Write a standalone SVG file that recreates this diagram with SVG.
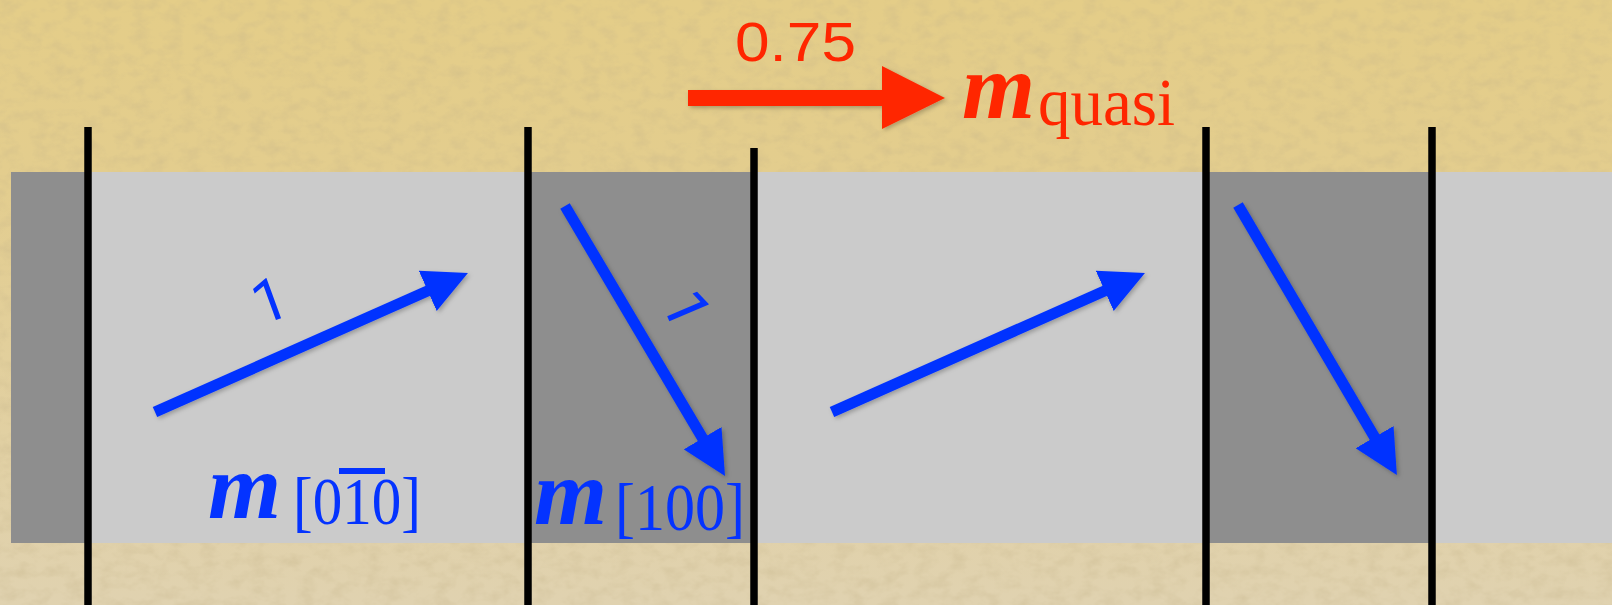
<svg xmlns="http://www.w3.org/2000/svg" width="1612" height="605" viewBox="0 0 1612 605">
  <defs>
    <linearGradient id="bg" x1="0" y1="0" x2="0" y2="1">
      <stop offset="0" stop-color="#E4CD88"/>
      <stop offset="0.3" stop-color="#E3CD8E"/>
      <stop offset="1" stop-color="#E0D2B0"/>
    </linearGradient>
    <filter id="grain" x="0" y="0" width="100%" height="100%">
      <feTurbulence type="fractalNoise" baseFrequency="0.06 0.09" numOctaves="3" seed="4" result="n"/>
      <feColorMatrix in="n" type="matrix" values="0 0 0 0 0.55  0 0 0 0 0.45  0 0 0 0 0.25  0 0 0 -1.6 0.95"/>
    </filter>
    <filter id="shadow" x="-10%" y="-10%" width="130%" height="130%">
      <feDropShadow dx="2" dy="2" stdDeviation="2" flood-color="#000" flood-opacity="0.25"/>
    </filter>
    <marker id="blueHead" viewBox="0 0 44 44" refX="4" refY="22" markerWidth="44" markerHeight="44" markerUnits="userSpaceOnUse" orient="auto">
      <path d="M0,0 L44,22 L0,44 z" fill="#0433FF"/>
    </marker>
    <style>
      .light { fill: #CBCBCB; }
      .dark { fill: #8E8E8E; }
      .wall { stroke: #000; stroke-width: 7.5; }
      .vec { stroke: #0433FF; stroke-width: 11; fill: none; marker-end: url(#blueHead); }
      .one { font-family: Roboto, "Liberation Sans", sans-serif; font-size: 60px; fill: #0433FF; }
      .mvec { font-family: "Liberation Serif", "Times New Roman", serif; font-style: italic; font-weight: bold; font-size: 94px; }
      .sub { font-family: "Liberation Serif", "Times New Roman", serif; font-size: 58px; }
      .blue { fill: #0433FF; }
      .red { fill: #FF2600; }
    </style>
  </defs>

  <g id="background">
    <rect x="0" y="0" width="1612" height="605" fill="url(#bg)"/>
    <rect x="0" y="0" width="1612" height="605" filter="url(#grain)" opacity="0.4"/>
  </g>

  <g id="band">
    <rect class="dark" x="11" y="172" width="77" height="371"/>
    <rect class="light" x="88" y="172" width="440" height="371"/>
    <rect class="dark" x="528" y="172" width="226" height="371"/>
    <rect class="light" x="754" y="172" width="452" height="371"/>
    <rect class="dark" x="1206" y="172" width="226" height="371"/>
    <rect class="light" x="1432" y="172" width="180" height="371"/>
  </g>

  <g id="walls">
    <line class="wall" x1="88" y1="127" x2="88" y2="605"/>
    <line class="wall" x1="528" y1="127" x2="528" y2="605"/>
    <line class="wall" x1="754" y1="148" x2="754" y2="605"/>
    <line class="wall" x1="1206" y1="127" x2="1206" y2="605"/>
    <line class="wall" x1="1432" y1="127" x2="1432" y2="605"/>
  </g>

  <g id="connectors" filter="url(#shadow)">
    <line class="vec" x1="155" y1="412" x2="431.4" y2="289.2"/>
    <line class="vec" x1="565" y1="206" x2="704.6" y2="441.6"/>
    <line class="vec" x1="832" y1="412" x2="1108.4" y2="289.2"/>
    <line class="vec" x1="1238" y1="205" x2="1376.6" y2="440.6"/>
    <polygon points="688,90 882,90 882,66 945,98 882,129 882,106 688,106" fill="#FF2600"/>
  </g>

  <g id="label-one-a" transform="translate(272.5,299) rotate(-20)">
    <text class="one" x="-3" y="21" text-anchor="middle">1</text>
  </g>
  <g id="label-one-b" transform="translate(688,311.5) rotate(67)">
    <text class="one" x="-3" y="21" text-anchor="middle">1</text>
  </g>

  <g id="label-m010" class="blue">
    <text class="mvec" x="208" y="518">m</text>
    <text class="sub" transform="translate(293,524) scale(1,1.15)" x="0" y="0" textLength="128" lengthAdjust="spacingAndGlyphs">[010]</text>
    <rect x="339" y="468" width="46" height="6"/>
  </g>

  <g id="label-m100" class="blue">
    <text class="mvec" x="534" y="524">m</text>
    <text class="sub" transform="translate(615,530) scale(1,1.15)" x="0" y="0" textLength="130" lengthAdjust="spacingAndGlyphs">[100]</text>
  </g>

  <g id="label-quasi" class="red">
    <text x="735" y="61" font-family="'Liberation Sans', Arial, sans-serif" font-size="55" textLength="121" lengthAdjust="spacingAndGlyphs">0.75</text>
    <text class="mvec" x="962" y="118">m</text>
    <text class="sub" transform="translate(1038,125) scale(1,1.15)" x="0" y="0" textLength="137" lengthAdjust="spacingAndGlyphs">quasi</text>
  </g>
</svg>
